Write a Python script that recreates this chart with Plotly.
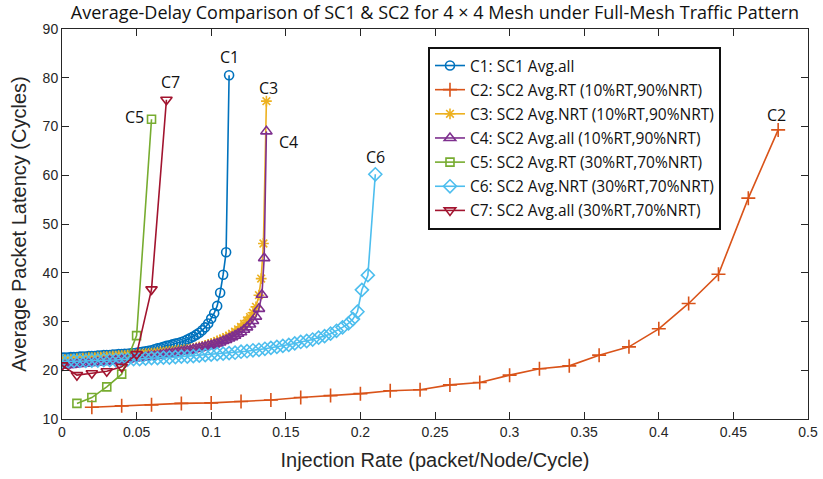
import plotly.graph_objects as go

# ---------------- data ----------------
c1_x = [0.000, 0.002, 0.004, 0.006, 0.008, 0.010, 0.012, 0.014, 0.016, 0.018,
        0.020, 0.022, 0.024, 0.026, 0.028, 0.030, 0.032, 0.034, 0.036, 0.038,
        0.040, 0.042, 0.044, 0.046, 0.048, 0.050, 0.052, 0.054, 0.056, 0.058,
        0.060, 0.062, 0.064, 0.066, 0.068, 0.070, 0.072, 0.074, 0.076, 0.078,
        0.080, 0.082, 0.084, 0.086, 0.088, 0.090, 0.092, 0.094, 0.096, 0.098,
        0.100, 0.102, 0.104, 0.106, 0.108, 0.110, 0.112]
c1_y = [22.6, 22.6, 22.6, 22.7, 22.7, 22.7, 22.8, 22.8, 22.8, 22.9,
        22.9, 22.9, 23.0, 23.0, 23.1, 23.1, 23.1, 23.2, 23.2, 23.3,
        23.3, 23.4, 23.4, 23.5, 23.5, 23.6, 23.7, 23.8, 23.9, 24.0,
        24.1, 24.3, 24.5, 24.6, 24.8, 25.0, 25.1, 25.3, 25.5, 25.6,
        25.8, 26.0, 26.3, 26.6, 26.9, 27.3, 27.7, 28.2, 28.8, 29.6,
        30.6, 31.7, 33.2, 35.9, 39.6, 44.2, 80.5]

c2_x = [0.02, 0.04, 0.06, 0.08, 0.10, 0.12, 0.14, 0.16, 0.18, 0.20, 0.22, 0.24,
        0.26, 0.28, 0.30, 0.32, 0.34, 0.36, 0.38, 0.40, 0.42, 0.44, 0.46, 0.48]
c2_y = [12.4, 12.7, 12.9, 13.2, 13.3, 13.6, 13.9, 14.4, 14.8, 15.2, 15.8, 16.0,
        17.0, 17.5, 19.0, 20.3, 20.9, 23.1, 24.8, 28.5, 33.7, 39.7, 55.3, 69.3]

c3_x = [0.000, 0.002, 0.004, 0.006, 0.008, 0.010, 0.012, 0.014, 0.016, 0.018,
        0.020, 0.022, 0.024, 0.026, 0.028, 0.030, 0.032, 0.034, 0.036, 0.038,
        0.040, 0.042, 0.044, 0.046, 0.048, 0.050, 0.052, 0.054, 0.056, 0.058,
        0.060, 0.062, 0.064, 0.066, 0.068, 0.070, 0.072, 0.074, 0.076, 0.078,
        0.080, 0.082, 0.084, 0.086, 0.088, 0.090, 0.092, 0.094, 0.096, 0.098,
        0.100, 0.102, 0.104, 0.106, 0.108, 0.110, 0.112, 0.114, 0.116, 0.118,
        0.120, 0.122, 0.124, 0.126, 0.128, 0.130, 0.132, 0.1335, 0.135, 0.137]
c3_y = [22.2, 22.2, 22.2, 22.3, 22.3, 22.4, 22.4, 22.5, 22.5, 22.6,
        22.6, 22.6, 22.7, 22.7, 22.8, 22.8, 22.8, 22.9, 22.9, 23.0,
        23.0, 23.0, 23.1, 23.1, 23.2, 23.2, 23.3, 23.3, 23.4, 23.4,
        23.5, 23.5, 23.6, 23.7, 23.7, 23.8, 23.9, 23.9, 24.0, 24.1,
        24.1, 24.2, 24.3, 24.4, 24.5, 24.6, 24.8, 24.9, 25.1, 25.3,
        25.5, 25.7, 26.0, 26.2, 26.5, 26.8, 27.1, 27.5, 27.9, 28.4,
        28.9, 29.5, 30.2, 30.9, 31.8, 33.0, 35.4, 38.8, 46.0, 75.2]

c4_x = [0.000, 0.002, 0.004, 0.006, 0.008, 0.010, 0.012, 0.014, 0.016, 0.018,
        0.020, 0.022, 0.024, 0.026, 0.028, 0.030, 0.032, 0.034, 0.036, 0.038,
        0.040, 0.042, 0.044, 0.046, 0.048, 0.050, 0.052, 0.054, 0.056, 0.058,
        0.060, 0.062, 0.064, 0.066, 0.068, 0.070, 0.072, 0.074, 0.076, 0.078,
        0.080, 0.082, 0.084, 0.086, 0.088, 0.090, 0.092, 0.094, 0.096, 0.098,
        0.100, 0.102, 0.104, 0.106, 0.108, 0.110, 0.112, 0.114, 0.116, 0.118,
        0.120, 0.122, 0.124, 0.126, 0.128, 0.130, 0.132, 0.134, 0.1355, 0.137]
c4_y = [21.0, 21.0, 21.1, 21.1, 21.2, 21.3, 21.3, 21.4, 21.4, 21.5,
        21.5, 21.6, 21.6, 21.7, 21.7, 21.8, 21.9, 21.9, 22.0, 22.0,
        22.1, 22.2, 22.2, 22.3, 22.4, 22.5, 22.5, 22.6, 22.7, 22.8,
        22.9, 22.9, 23.0, 23.1, 23.2, 23.3, 23.4, 23.5, 23.6, 23.7,
        23.8, 23.9, 24.0, 24.1, 24.3, 24.4, 24.5, 24.7, 24.8, 25.0,
        25.1, 25.3, 25.5, 25.7, 26.0, 26.2, 26.5, 26.8, 27.1, 27.5,
        27.8, 28.3, 28.8, 29.4, 30.1, 31.0, 32.6, 35.5, 43.0, 69.0]

c5_x = [0.01, 0.02, 0.03, 0.04, 0.05, 0.06]
c5_y = [13.2, 14.4, 16.6, 19.2, 27.1, 71.5]

c6_x = [0.000, 0.004, 0.008, 0.012, 0.016, 0.020, 0.024, 0.028, 0.032, 0.036,
        0.040, 0.044, 0.048, 0.052, 0.056, 0.060, 0.064, 0.068, 0.072, 0.076,
        0.080, 0.084, 0.088, 0.092, 0.096, 0.100, 0.104, 0.108, 0.112, 0.116,
        0.120, 0.124, 0.128, 0.132, 0.136, 0.140, 0.144, 0.148, 0.152, 0.156,
        0.160, 0.164, 0.168, 0.172, 0.176, 0.180, 0.184, 0.188, 0.192, 0.195,
        0.198, 0.201, 0.205, 0.210]
c6_y = [21.8, 21.8, 21.9, 21.9, 21.9, 22.0, 22.0, 22.1, 22.1, 22.1,
        22.2, 22.2, 22.3, 22.3, 22.4, 22.5, 22.5, 22.6, 22.6, 22.7,
        22.8, 22.8, 22.9, 23.0, 23.1, 23.2, 23.3, 23.4, 23.5, 23.6,
        23.8, 23.9, 24.1, 24.2, 24.4, 24.6, 24.8, 25.0, 25.2, 25.5,
        25.8, 26.0, 26.3, 26.7, 27.0, 27.5, 28.1, 28.8, 29.6, 30.5,
        32.0, 36.5, 39.5, 60.2]

c7_x = [0.00, 0.01, 0.02, 0.03, 0.04, 0.05, 0.06, 0.07]
c7_y = [21.0, 19.0, 19.4, 19.8, 20.7, 23.3, 36.6, 75.5]

names = ["C1: SC1 Avg.all",
         "C2: SC2 Avg.RT (10%RT,90%NRT)",
         "C3: SC2 Avg.NRT (10%RT,90%NRT)",
         "C4: SC2 Avg.all (10%RT,90%NRT)",
         "C5: SC2 Avg.RT (30%RT,70%NRT)",
         "C6: SC2 Avg.NRT (30%RT,70%NRT)",
         "C7: SC2 Avg.all (30%RT,70%NRT)"]

curve_labels = ["C1", "C2", "C3", "C4", "C5", "C6", "C7"]
label_x = [0.112, 0.4786, 0.1387, 0.1515, 0.0483, 0.2098, 0.0724]
label_y = [84.3, 72.4, 77.9, 66.8, 72.0, 63.7, 79.1]

# ---------------- style ----------------
colors = ["#0072BD", "#D95319", "#EDB120", "#7E2F8E", "#77AC30", "#4DBEEE", "#A2142F"]
symbols = ["circle-open", "cross-thin-open", "asterisk-open", "triangle-up-open",
           "square-open", "diamond-open", "triangle-down-open"]
sizes = [9, 10, 9, 10, 8, 10, 10]
label_font = "Open Sans"

series = [(c1_x, c1_y), (c2_x, c2_y), (c3_x, c3_y), (c4_x, c4_y),
          (c5_x, c5_y), (c6_x, c6_y), (c7_x, c7_y)]

fig = go.Figure()
for i, (xs, ys) in enumerate(series):
    fig.add_trace(go.Scatter(
        x=xs, y=ys, name=names[i], mode="lines+markers",
        line=dict(color=colors[i], width=1.6),
        marker=dict(symbol=symbols[i], size=sizes[i], color=colors[i],
                    line=dict(color=colors[i], width=1.6)),
        legendgroup=f"g{i}",
    ))

for i, t in enumerate(curve_labels):
    fig.add_annotation(x=label_x[i], y=label_y[i], text=t, showarrow=False,
                       xref="x", yref="y",
                       font=dict(family=label_font, size=16, color="#111111"))

axis_common = dict(
    showline=True, linecolor="#262626", linewidth=1, mirror="ticks",
    ticks="inside", ticklen=7, tickwidth=1, tickcolor="#262626",
    showgrid=False, zeroline=False, automargin=False,
    tickfont=dict(family="Liberation Sans", size=14, color="#262626"),
)

fig.update_layout(
    width=823, height=479,
    margin=dict(l=62, r=15, t=29, b=60),
    paper_bgcolor="white", plot_bgcolor="white",
    title=dict(text="Average-Delay Comparison of SC1 &amp; SC2 for 4 × 4 Mesh under Full-Mesh Traffic Pattern",
               x=0.5, xref="paper", y=0.974, yref="container", yanchor="middle",
               font=dict(family=label_font, size=18, color="#111111")),
    xaxis=dict(range=[0, 0.5], dtick=0.05, tick0=0,
               title=dict(text="Injection Rate (packet/Node/Cycle)",
                          font=dict(family="Liberation Sans", size=20, color="#262626"),
                          standoff=14),
               **axis_common),
    yaxis=dict(range=[10, 90], dtick=10, tick0=10,
               title=dict(text="Average Packet Latency (Cycles)",
                          font=dict(family="Liberation Sans", size=20, color="#262626"),
                          standoff=10),
               **axis_common),
    legend=dict(x=0.4906, y=0.954, xanchor="left", yanchor="top",
                bgcolor="white", bordercolor="#111111", borderwidth=2,
                font=dict(family=label_font, size=15.5, color="#111111"),
                tracegroupgap=1, traceorder="grouped", itemwidth=30),
    showlegend=True,
)

fig.write_html("out.html")
